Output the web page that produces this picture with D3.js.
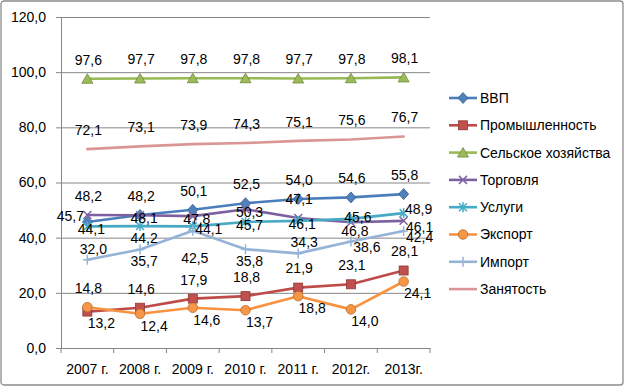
<!DOCTYPE html>
<html>
<head>
<meta charset="utf-8">
<script src="https://cdn.jsdelivr.net/npm/d3@7"></script>
<style>
  body { margin: 0; background: #fff; }
  svg { display: block; font-family: "Liberation Sans", Arial, sans-serif; }
</style>
</head>
<body>
<div id="chart"></div>
<script>
const years = ["2007 г.", "2008 г.", "2009 г.", "2010 г.", "2011 г.", "2012г.", "2013г."];
const yTicks = [0, 20, 40, 60, 80, 100, 120];

const vvp        = [45.7, 48.2, 50.1, 52.5, 54.0, 54.6, 55.8];
const industry   = [13.2, 14.6, 17.9, 18.8, 21.9, 23.1, 28.1];
const agri       = [97.6, 97.7, 97.8, 97.8, 97.7, 97.8, 98.1];
const trade      = [48.2, 48.1, 47.8, 50.3, 47.1, 45.6, 46.1];
const services   = [44.1, 44.2, 44.1, 45.7, 46.1, 46.8, 48.9];
const exportVals = [14.8, 12.4, 14.6, 13.7, 18.8, 14.0, 24.1];
const importVals = [32.0, 35.7, 42.5, 35.8, 34.3, 38.6, 42.4];
const employment = [72.1, 73.1, 73.9, 74.3, 75.1, 75.6, 76.7];

// label placement codes per point (Excel labels were nudged by hand)
const LABEL_OFFSETS = {
  a: [1, -19], u: [6, -11], b: [4, 12], B: [2, 27],
  c: [4, 3], C: [7, -5], r: [16, 3], q: [15, -4], s: [16, 6],
  R: [14, 12], l: [-17, -6]
};

const series = [
  { name: "ВВП", values: vvp, line: "#4a7ebb", fill: "#4f81bd", edge: "#385d8a", marker: "diamond", pos: "laaaaaa" },
  { name: "Промышленность", values: industry, line: "#be4b48", fill: "#c0504d", edge: "#8c3836", marker: "square", pos: "Raaaaaa" },
  { name: "Сельское хозяйства", values: agri, line: "#98b954", fill: "#9bbb59", edge: "#71893f", marker: "triangle", pos: "aaaaaaa" },
  { name: "Торговля", values: trade, line: "#7d60a0", fill: "#8064a2", edge: "#7d60a0", marker: "x", pos: "acccaCs" },
  { name: "Услуги", values: services, line: "#46aac5", fill: "#4bacc6", edge: "#46aac5", marker: "star", pos: "cbrccbq" },
  { name: "Экспорт", values: exportVals, line: "#f69240", fill: "#f79646", edge: "#b66d31", marker: "circle", pos: "aRRRRRR" },
  { name: "Импорт", values: importVals, line: "#95b3d7", fill: "#95b3d7", edge: "#95b3d7", marker: "plus", pos: "ubBbuss" },
  { name: "Занятость", values: employment, line: "#d99694", fill: "#d99694", edge: "#d99694", marker: "none", pos: "aaaaaaa" }
];

const width = 625, height = 387;
const margin = { top: 17, right: 195, bottom: 39, left: 61 };

const svg = d3.select("#chart").append("svg")
  .attr("width", width).attr("height", height);

svg.append("rect")
  .attr("x", 1).attr("y", 1).attr("width", 622).attr("height", 384)
  .attr("rx", 3).attr("fill", "#fff").attr("stroke", "#8c8c8c").attr("stroke-width", 1.3);

const x = d3.scaleBand().domain(years).range([margin.left, width - margin.right]);
const y = d3.scaleLinear().domain([0, 120]).range([height - margin.bottom, margin.top]);
const cx = (i) => x(years[i]) + x.bandwidth() / 2;

// gridlines
svg.append("g")
  .attr("transform", `translate(${margin.left},0)`)
  .call(d3.axisLeft(y).tickValues(yTicks.slice(1)).tickSize(-(width - margin.right - margin.left)).tickFormat(""))
  .call(g => g.select(".domain").remove())
  .selectAll("line").attr("stroke", "#868686").attr("stroke-width", 1);

// y axis
const yAxis = svg.append("g")
  .attr("transform", `translate(${margin.left},0)`)
  .call(d3.axisLeft(y).tickValues(yTicks).tickSize(5).tickPadding(10)
    .tickFormat(d => d.toFixed(1).replace(".", ",")));
yAxis.select(".domain").attr("stroke", "#868686");
yAxis.selectAll("line").attr("stroke", "#868686");
yAxis.selectAll("text").attr("font-size", 14).attr("fill", "#000");

// x axis
const xAxis = svg.append("g")
  .attr("transform", `translate(0,${y(0)})`)
  .call(d3.axisBottom(x).tickSize(0).tickPadding(16));
xAxis.select(".domain").attr("stroke", "#868686");
xAxis.selectAll("text").attr("font-size", 14).attr("fill", "#000");
const bounds = years.map(d => x(d)).concat([x(years[years.length - 1]) + x.bandwidth()]);
xAxis.selectAll(".bound").data(bounds).join("line")
  .attr("x1", d => d).attr("x2", d => d).attr("y1", 0).attr("y2", 5)
  .attr("stroke", "#868686");

function drawMarker(g, type, s) {
  if (type === "diamond") {
    g.append("path").attr("d", "M0,-5.5L5,0L0,5.5L-5,0Z")
      .attr("fill", s.fill).attr("stroke", s.edge).attr("stroke-width", 0.8);
  } else if (type === "square") {
    g.append("rect").attr("x", -4.5).attr("y", -4.5).attr("width", 9).attr("height", 9)
      .attr("fill", s.fill).attr("stroke", s.edge).attr("stroke-width", 0.8);
  } else if (type === "triangle") {
    g.append("path").attr("d", "M0,-5L5.5,4.5L-5.5,4.5Z")
      .attr("fill", s.fill).attr("stroke", s.edge).attr("stroke-width", 0.8);
  } else if (type === "circle") {
    g.append("circle").attr("r", 4.8)
      .attr("fill", s.fill).attr("stroke", s.edge).attr("stroke-width", 0.8);
  } else if (type === "x") {
    g.append("path").attr("d", "M-4,-4L4,4M-4,4L4,-4")
      .attr("stroke", s.fill).attr("stroke-width", 1.5).attr("fill", "none");
  } else if (type === "star") {
    g.append("path").attr("d", "M-4,-4L4,4M-4,4L4,-4M0,-5L0,5")
      .attr("stroke", s.fill).attr("stroke-width", 1.5).attr("fill", "none");
  } else if (type === "plus") {
    g.append("path").attr("d", "M-4.5,0L4.5,0M0,-5L0,5")
      .attr("stroke", s.fill).attr("stroke-width", 1.5).attr("fill", "none");
  }
}

const lineGen = d3.line().x((d, i) => cx(i)).y(d => y(d));

series.forEach(s => {
  const g = svg.append("g");
  g.append("path").datum(s.values)
    .attr("fill", "none").attr("stroke", s.line).attr("stroke-width", 2.6)
    .attr("stroke-linejoin", "round").attr("stroke-linecap", "round")
    .attr("d", lineGen);
  s.values.forEach((v, i) => {
    const m = g.append("g").attr("transform", `translate(${cx(i)},${y(v)})`);
    drawMarker(m, s.marker, s);
  });
});

// data labels on top
series.forEach(s => {
  svg.append("g").selectAll("text").data(s.values).join("text")
    .attr("x", (d, i) => cx(i) + LABEL_OFFSETS[s.pos[i]][0])
    .attr("y", (d, i) => y(d) + LABEL_OFFSETS[s.pos[i]][1])
    .attr("dy", "0.35em")
    .attr("text-anchor", "middle")
    .attr("font-size", 14).attr("fill", "#000")
    .text(d => d.toFixed(1).replace(".", ","));
});

// legend
const legend = svg.append("g").attr("transform", "translate(449,98)");
series.forEach((s, i) => {
  const item = legend.append("g").attr("transform", `translate(0,${i * 27.3})`);
  item.append("line").attr("x1", 0).attr("x2", 28).attr("y1", 0).attr("y2", 0)
    .attr("stroke", s.line).attr("stroke-width", 2.6);
  const m = item.append("g").attr("transform", "translate(14,0)");
  drawMarker(m, s.marker, s);
  item.append("text").attr("x", 31).attr("y", 0).attr("dy", "0.35em")
    .attr("font-size", 14).attr("fill", "#000").text(s.name);
});
</script>
</body>
</html>
